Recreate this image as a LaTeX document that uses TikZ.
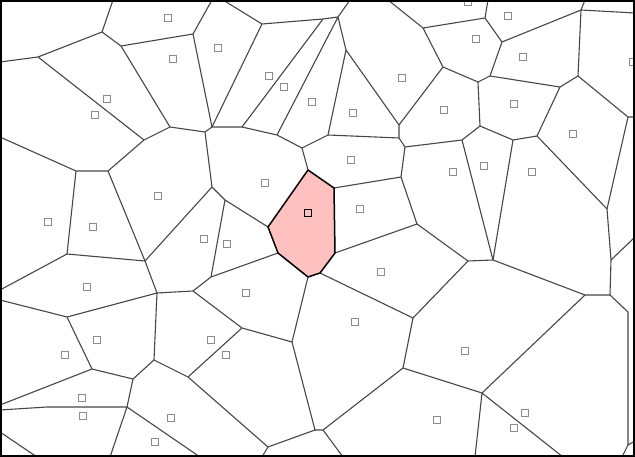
\documentclass[tikz,border=0pt]{standalone}
\begin{document}
\begin{tikzpicture}[x=1pt,y=-1pt,
  edge/.style={draw=black!72,line width=1.1pt,line join=round},
  cellhi/.style={draw=black,line width=1.5pt,line join=round,fill=pinkcell},
  site/.style={draw=black!45,line width=0.9pt,rectangle,minimum size=7.5pt,inner sep=0pt},
  sitehi/.style={draw=black,line width=1.4pt,rectangle,minimum size=7.5pt,inner sep=0pt}]
\definecolor{pinkcell}{RGB}{255,192,192}
\useasboundingbox (0,0) rectangle (635,457);
\fill[white] (0,0) rectangle (635,457);
% vertices
\coordinate (A) at (102,32);  \coordinate (B) at (38,57);   \coordinate (C) at (121,46);
\coordinate (D) at (193,34);  \coordinate (K) at (262,24);  \coordinate (L1) at (323,19);
\coordinate (L) at (338,17);  \coordinate (R) at (346,50);  \coordinate (E2) at (212,127);
\coordinate (E) at (205,132); \coordinate (F) at (170,127); \coordinate (G) at (144,140);
\coordinate (H) at (108,171); \coordinate (I) at (76,171);  \coordinate (S) at (242,127);
\coordinate (M) at (277,135); \coordinate (N) at (302,148); \coordinate (O) at (328,135);
\coordinate (P) at (399,125); \coordinate (P1) at (399,138); \coordinate (P2) at (405,147);
\coordinate (W) at (423,28);  \coordinate (X) at (485,18);  \coordinate (Y) at (502,42);
\coordinate (Z) at (581,10);  \coordinate (AA) at (578,76); \coordinate (AB) at (490,76);
\coordinate (AC) at (478,82); \coordinate (AD) at (560,87); \coordinate (AE) at (628,117);
\coordinate (AF) at (537,136); \coordinate (AG) at (513,140); \coordinate (AH) at (480,126);
\coordinate (AI) at (443,67); \coordinate (AJ) at (462,140); \coordinate (AK) at (607,209);
\coordinate (DE) at (611,260); \coordinate (T) at (308,170); \coordinate (U) at (334,188);
\coordinate (V) at (401,177); \coordinate (CF) at (417,224); \coordinate (CD) at (335,253);
\coordinate (CC) at (320,273); \coordinate (CB) at (308,277); \coordinate (CA) at (278,253);
\coordinate (CE) at (268,227); \coordinate (J) at (212,187); \coordinate (DI) at (225,200);
\coordinate (DH) at (211,277); \coordinate (BA) at (67,254); \coordinate (BB) at (145,261);
\coordinate (BC) at (157,293); \coordinate (BD) at (193,291); \coordinate (BE) at (154,360);
\coordinate (BF) at (188,377); \coordinate (BG) at (67,317); \coordinate (BH) at (92,369);
\coordinate (BI) at (133,379); \coordinate (BJ) at (127,407); \coordinate (BK) at (47,407);
\coordinate (CH) at (242,328); \coordinate (CG) at (292,342); \coordinate (CI) at (315,430);
\coordinate (CI2) at (323,430); \coordinate (CJ) at (268,447); \coordinate (CK) at (403,368);
\coordinate (CL) at (413,318); \coordinate (DB) at (468,261); \coordinate (DA) at (493,260);
\coordinate (DC) at (585,295); \coordinate (DC2) at (610,295); \coordinate (DD) at (628,312);
\coordinate (DF) at (628,445); \coordinate (DG) at (482,393);
\begin{scope}
\clip (1,1) rectangle (634,456);
\fill[pinkcell] (T) -- (U) -- (CD) -- (CC) -- (CB) -- (CA) -- (CE) -- cycle;
\draw[edge] (113,0) -- (A) -- (B) -- (0,62);
\draw[edge] (A) -- (C) -- (D) -- (212,0);
\draw[edge] (D) -- (E2) (C) -- (F) (B) -- (G) -- (F) (G) -- (H) -- (I) -- (0,137);
\draw[edge] (I) -- (BA) (H) -- (BB) (J) -- (BB) (F) -- (E) -- (E2) (E) -- (J);
\draw[edge] (E2) -- (S) (K) -- (E2) (K) -- (223,0) (K) -- (L1) -- (L) (L1) -- (S);
\draw[edge] (L) -- (M) (L) -- (R) (L) -- (350,0) (S) -- (M) -- (N) -- (O) -- (R) -- (P);
\draw[edge] (O) -- (P1) (P) -- (P1) -- (P2) (P) -- (AI) -- (W) -- (388,0) (W) -- (X) -- (488,0);
\draw[edge] (X) -- (Y) -- (Z) -- (585,0) (Z) -- (635,13) (Z) -- (AA) (Y) -- (AB) -- (AC);
\draw[edge] (AB) -- (AD) -- (AA) -- (AE) -- (635,117) (AE) -- (AK) (AD) -- (AF) -- (AG) -- (AH) -- (AC) -- (AI);
\draw[edge] (AH) -- (AJ) -- (P2) (AJ) -- (DA) (AG) -- (DA) (AF) -- (AK) -- (DE) -- (635,237) (DE) -- (DC2);
\draw[edge] (N) -- (T) (U) -- (V) -- (P2) (V) -- (CF) (CD) -- (CF);
\draw[edge] (CE) -- (DI) -- (J) (DI) -- (DH) -- (CA) (DH) -- (BD) -- (BC) (BB) -- (BC) (BA) -- (BB);
\draw[edge] (BA) -- (0,290) (BC) -- (BG) -- (0,300) (BG) -- (BH) -- (0,405) (BH) -- (BI) -- (BE) -- (BC);
\draw[edge] (BE) -- (BF) -- (CH) -- (BD) (CH) -- (CG) -- (CB) (CG) -- (CI) -- (CJ) -- (BF) (CJ) -- (262,457);
\draw[edge] (CI) -- (CI2) -- (343,457) (CI2) -- (CK) -- (CL) -- (CC) (CL) -- (DB) -- (CF) (DB) -- (DA) -- (DC) -- (DC2) -- (DD) -- (DF) -- (635,441);
\draw[edge] (DF) -- (622,457) (DC) -- (DG) -- (CK) (DG) -- (475,457) (DG) -- (563,457);
\draw[edge] (BI) -- (BJ) -- (BK) -- (0,410) (BJ) -- (110,457) (BJ) -- (200,457) (0,432) -- (37,457);
\draw[cellhi] (T) -- (U) -- (CD) -- (CC) -- (CB) -- (CA) -- (CE) -- cycle;
\foreach \p [count=\i] in {(168,18),(173,59),(218,48),(107,99),(95,115),(158,196),(48,222),(93,227),
  (269,76),(284,87),(312,102),(353,113),(402,78),(351,160),(265,183),(360,209),
  (468,2),(508,16),(476,39),(523,57),(633,62),(444,110),(514,104),(573,134),(484,166),(453,172),(532,172),
  (204,239),(227,244),(87,287),(97,340),(65,355),(211,340),(226,355),(82,398),(83,416),(171,418),(155,442),
  (246,293),(381,272),(355,322),(465,351),(437,420),(525,413),(514,428)}
  \node[site] (s\i) at \p {};
\node[sitehi] (shi) at (308,213) {};
\end{scope}
\draw[black,line width=2pt] (1,1) rectangle (634,456);
\end{tikzpicture}
\end{document}
